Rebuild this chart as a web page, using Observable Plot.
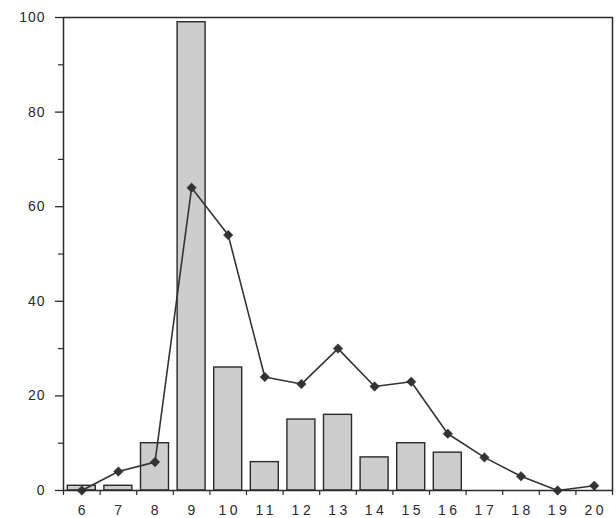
<!DOCTYPE html>
<html>
<head>
<meta charset="utf-8">
<script src="https://cdn.jsdelivr.net/npm/d3@7"></script>
<script src="https://cdn.jsdelivr.net/npm/@observablehq/plot@0.6"></script>
<style>
  html, body { margin: 0; padding: 0; background: #fff; }
  #chart { width: 616px; height: 518px; }
  .xlab text { letter-spacing: 3.5px; }
  .ylab text { letter-spacing: 1px; }
</style>
</head>
<body>
<div id="chart"></div>
<script>
const categories = [6, 7, 8, 9, 10, 11, 12, 13, 14, 15, 16, 17, 18, 19, 20];
const barValues  = [1, 1, 10, 99, 26, 6, 15, 16, 7, 10, 8, 0, 0, 0, 0];
const lineValues = [0, 4, 6, 64, 54, 24, 22.5, 30, 22, 23, 12, 7, 3, 0, 1];
const yTicks = [0, 20, 40, 60, 80, 100];
const yMinorTicks = [10, 30, 50, 70, 90];
const xBoundaryTicks = [5.5, 6.5, 7.5, 8.5, 9.5, 10.5, 11.5, 12.5, 13.5, 14.5, 15.5, 16.5, 17.5, 18.5, 19.5, 20.5];

const bars = categories.map((k, i) => ({k, v: barValues[i]})).filter(d => d.v > 0);
const line = categories.map((k, i) => ({k, v: lineValues[i]}));

const ink = "#2a2a2a";
const font = "Liberation Sans, Arial, Helvetica, sans-serif";

const chart = Plot.plot({
  width: 616,
  height: 518,
  marginLeft: 63,
  marginRight: 4,
  marginTop: 17,
  marginBottom: 28,
  style: {fontFamily: font, fontSize: "14px", color: ink, background: "#fff"},
  x: {type: "linear", domain: [5.5, 20.5], axis: null},
  y: {domain: [0, 100], axis: null},
  marks: [
    Plot.rectY(bars, {
      x1: d => d.k - 0.5, x2: d => d.k + 0.5, y: "v",
      insetLeft: 4.3, insetRight: 4.3,
      fill: "#cdcdcd", stroke: ink, strokeWidth: 1.4
    }),
    Plot.line(line, {x: "k", y: "v", stroke: "#333", strokeWidth: 1.6}),
    Plot.dot(line, {x: "k", y: "v", symbol: "square", rotate: 45, r: 3.8, fill: "#333", stroke: "#333", strokeWidth: 0.5}),
    Plot.frame({stroke: ink, strokeWidth: 1.5}),
    Plot.axisY({ticks: yTicks, tickSize: 8, tickPadding: 10, stroke: ink, strokeWidth: 1.3, label: null, fontSize: 14, fill: ink, className: "ylab"}),
    Plot.axisY({ticks: yMinorTicks, tickSize: 5, tickFormat: () => "", stroke: ink, strokeWidth: 1.2, label: null}),
    Plot.axisX({ticks: xBoundaryTicks, tickSize: 5, tickFormat: () => "", stroke: ink, strokeWidth: 1.2, label: null}),
    Plot.axisX({ticks: categories, tickSize: 0, tickPadding: 15, label: null, fontSize: 14, dx: 1.5, fill: ink, className: "xlab"})
  ]
});
document.getElementById("chart").appendChild(chart);
</script>
</body>
</html>
